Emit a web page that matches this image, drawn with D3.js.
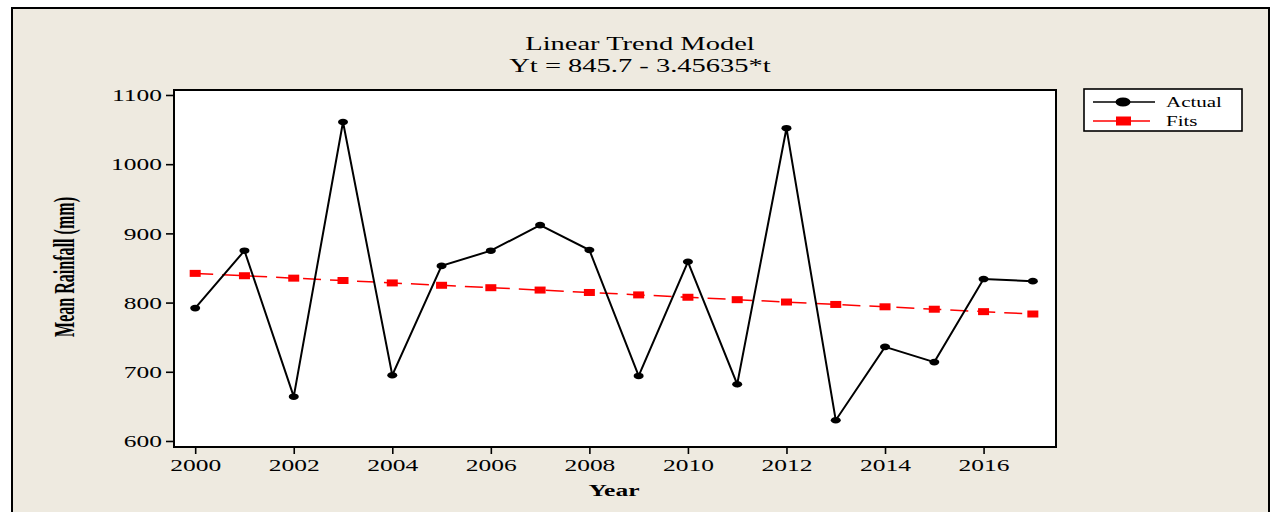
<!DOCTYPE html>
<html>
<head>
<meta charset="utf-8">
<script src="https://cdn.jsdelivr.net/npm/d3@7"></script>
<style>
  html, body { margin: 0; padding: 0; background: #ffffff; }
  svg { display: block; }
  text { font-family: "Liberation Serif", "Times New Roman", serif; fill: #000; }
</style>
</head>
<body>
<svg id="chart" width="1272" height="512"></svg>
<script>
// Annual mean rainfall with a fitted linear trend
const years = [2000, 2001, 2002, 2003, 2004, 2005, 2006, 2007, 2008,
               2009, 2010, 2011, 2012, 2013, 2014, 2015, 2016, 2017];
const actual = [792, 875, 664, 1061, 695, 853, 875, 912, 876,
                694, 859, 682, 1052, 630, 736, 714, 834, 831];
const fits = [842.2, 838.8, 835.3, 831.9, 828.4, 825.0, 821.5, 818.1, 814.6,
              811.1, 807.7, 804.2, 800.8, 797.3, 793.9, 790.4, 786.9, 783.5];
const yTicks = [600, 700, 800, 900, 1000, 1100];
const xTicks = [2000, 2002, 2004, 2006, 2008, 2010, 2012, 2014, 2016];
const titleLines = ["Linear Trend Model", "Yt = 845.7 - 3.45635*t"];
const legendItems = ["Actual", "Fits"];

const W = 1272, H = 512;
const plot = { left: 174, right: 1056, top: 90, bottom: 447 };
const SX = 1.5; // horizontal widening of lettering

const svg = d3.select("#chart");

// widen a text element horizontally around its own anchor point
function widen(sel) {
  sel.each(function () {
    const t = d3.select(this);
    const x = +t.attr("x") || 0, y = +t.attr("y") || 0;
    t.attr("transform", `translate(${x},${y}) scale(${SX},1) translate(${-x},${-y})`);
  });
}

// outer panel
svg.append("rect")
  .attr("x", 12).attr("y", 8)
  .attr("width", 1257).attr("height", H + 20)
  .attr("fill", "#eeeae0")
  .attr("stroke", "#000").attr("stroke-width", 2);

const x = d3.scaleLinear().domain([1999.57, 2017.47]).range([plot.left, plot.right]);
const y = d3.scaleLinear().domain([591.3, 1107.2]).range([plot.bottom, plot.top]);

// plotting area
svg.append("rect")
  .attr("x", plot.left).attr("y", plot.top)
  .attr("width", plot.right - plot.left).attr("height", plot.bottom - plot.top)
  .attr("fill", "#fff");

// axes
const yAxis = svg.append("g")
  .attr("transform", `translate(${plot.left},0)`)
  .call(d3.axisLeft(y).tickValues(yTicks).tickSize(8).tickPadding(4).tickFormat(d3.format("d")));
const xAxis = svg.append("g")
  .attr("transform", `translate(0,${plot.bottom})`)
  .call(d3.axisBottom(x).tickValues(xTicks).tickSize(7).tickPadding(4).tickFormat(d3.format("d")));

[yAxis, xAxis].forEach(g => {
  g.select(".domain").remove();
  g.selectAll(".tick line").attr("stroke", "#000").attr("stroke-width", 1.6);
  g.selectAll(".tick text")
    .attr("font-family", "Liberation Serif, Times New Roman, serif")
    .attr("font-size", 17).attr("fill", "#000");
});
yAxis.selectAll(".tick text").attr("dy", "0.34em").each(function () {
  const t = d3.select(this);
  t.attr("transform", `translate(${t.attr("x")},0) scale(${SX},1) translate(${-t.attr("x")},0)`);
});
xAxis.selectAll(".tick text").attr("dy", "0.76em").attr("transform", `scale(${SX},1)`)
  .attr("x", 0);

// frame of the plotting area
svg.append("rect")
  .attr("x", plot.left).attr("y", plot.top)
  .attr("width", plot.right - plot.left).attr("height", plot.bottom - plot.top)
  .attr("fill", "none").attr("stroke", "#000").attr("stroke-width", 2);

// fitted trend (dashed red with square markers)
const fitLine = d3.line().x((d, i) => x(years[i])).y(d => y(d));
svg.append("path")
  .datum(fits)
  .attr("d", fitLine)
  .attr("fill", "none").attr("stroke", "#ff0000")
  .attr("stroke-width", 1.5).attr("stroke-dasharray", "18,9");
svg.append("g").selectAll("rect")
  .data(fits).join("rect")
  .attr("x", (d, i) => x(years[i]) - 5.5)
  .attr("y", d => y(d) - 3.5)
  .attr("width", 11).attr("height", 7)
  .attr("fill", "#ff0000");

// observed series
const actLine = d3.line().x((d, i) => x(years[i])).y(d => y(d));
svg.append("path")
  .datum(actual)
  .attr("d", actLine)
  .attr("fill", "none").attr("stroke", "#000").attr("stroke-width", 2);
svg.append("g").selectAll("ellipse")
  .data(actual).join("ellipse")
  .attr("cx", (d, i) => x(years[i]))
  .attr("cy", d => y(d))
  .attr("rx", 5).attr("ry", 3.3)
  .attr("fill", "#000");

// title
svg.append("text").attr("x", 640).attr("y", 50)
  .attr("text-anchor", "middle").attr("font-size", 19)
  .text(titleLines[0]).call(widen);
svg.append("text").attr("x", 640).attr("y", 72)
  .attr("text-anchor", "middle").attr("font-size", 19)
  .text(titleLines[1]).call(widen);

// axis titles
svg.append("text").attr("x", 614).attr("y", 496)
  .attr("text-anchor", "middle").attr("font-size", 17).attr("font-weight", "bold")
  .text("Year").call(widen);
svg.append("text")
  .attr("transform", `translate(74,267) scale(${SX},1) rotate(-90)`)
  .attr("text-anchor", "middle").attr("font-size", 19).attr("font-weight", "bold")
  .attr("textLength", 140).attr("lengthAdjust", "spacingAndGlyphs")
  .attr("x", 0).attr("y", 0)
  .text("Mean Rainfall (mm)");

// legend
const lg = svg.append("g");
lg.append("rect")
  .attr("x", 1084).attr("y", 89).attr("width", 158).attr("height", 42)
  .attr("fill", "#fff").attr("stroke", "#000").attr("stroke-width", 1.6);
const rowY = [102, 121];
lg.append("line").attr("x1", 1093).attr("x2", 1155).attr("y1", rowY[0]).attr("y2", rowY[0])
  .attr("stroke", "#000").attr("stroke-width", 1.5);
lg.append("ellipse").attr("cx", 1123).attr("cy", rowY[0]).attr("rx", 7.5).attr("ry", 4.5)
  .attr("fill", "#000");
lg.append("line").attr("x1", 1093).attr("x2", 1150).attr("y1", rowY[1]).attr("y2", rowY[1])
  .attr("stroke", "#ff0000").attr("stroke-width", 1.5);
lg.append("rect").attr("x", 1116).attr("y", rowY[1] - 4.5).attr("width", 15).attr("height", 9)
  .attr("fill", "#ff0000");
legendItems.forEach((name, i) => {
  lg.append("text").attr("x", 1166).attr("y", rowY[i] + 5)
    .attr("font-size", 14).text(name).call(widen);
});
</script>
</body>
</html>
